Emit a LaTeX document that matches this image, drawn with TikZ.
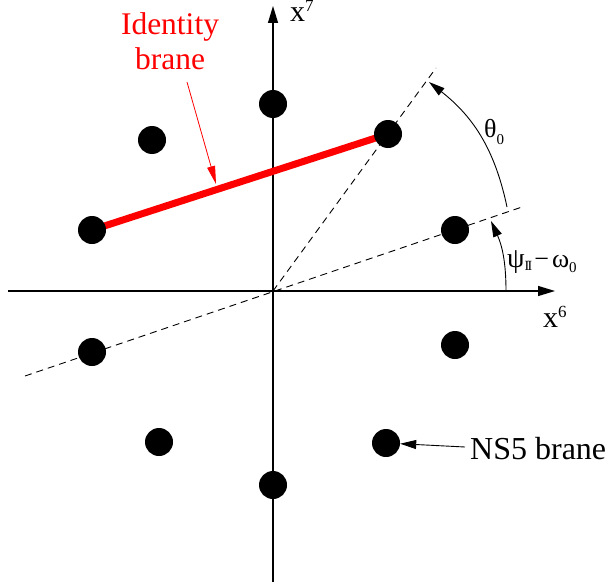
\documentclass[tikz,border=0pt]{standalone}
\usepackage{fontspec}
\setmainfont{Liberation Serif}
\usetikzlibrary{arrows.meta}
\begin{document}
\begin{tikzpicture}[x=1pt,y=1pt,
  dot/.style={circle,fill=black,draw=none,inner sep=0pt,minimum size=28pt},
  axis/.style={line width=1.2pt,-{Triangle[length=17pt,width=10pt]}},
  dashline/.style={line width=0.9pt,dash pattern=on 7pt off 5pt},
  brane/.style={red,line width=7pt},
  pointer/.style={line width=0.9pt,-{Triangle[length=16pt,width=9pt]}},
  lbl/.style={inner sep=0pt,anchor=base west},
  bigtxt/.style={font=\fontsize{31.5}{35}\selectfont}]
\useasboundingbox (0,0) rectangle (607,-586);
% axes
\coordinate (o) at (273,-291);
\coordinate (xl) at (8,-291);
\coordinate (xr) at (555,-291);
\coordinate (yb) at (273,-582);
\coordinate (yt) at (273,-6);
\draw[axis] (xl) -- (xr);
\draw[axis] (yb) -- (yt);
% dashed lines
\coordinate (e1) at (436,-68);
\coordinate (e2a) at (25,-376);
\coordinate (e2b) at (522,-207);
\draw[dashline] (o) -- (e1);
\draw[dashline] (e2a) -- (e2b);
% red brane line (drawn below dots)
\coordinate (cL) at (92,-230);
\coordinate (cR) at (388,-134);
\draw[brane] (cL) -- (cR);
% dots
\node[dot] (d1) at (273,-104) {};
\node[dot] (d2) at (152,-140) {};
\node[dot] (d3) at (cR) {};
\node[dot] (d4) at (cL) {};
\node[dot] (d5) at (455,-230) {};
\node[dot] (d6) at (92,-352) {};
\node[dot] (d7) at (455,-345) {};
\node[dot] (d8) at (159,-442) {};
\node[dot] (d9) at (386,-443) {};
\node[dot] (d10) at (273,-485) {};
% axis labels
\node[lbl,font=\fontsize{30}{30}\selectfont] (lx6) at (543,-327) {x\raisebox{10pt}{\fontsize{17}{17}\selectfont 6}};
\node[lbl,font=\fontsize{30}{30}\selectfont] (lx7) at (290,-22) {x\raisebox{10pt}{\fontsize{17}{17}\selectfont 7}};
% angle arcs
\coordinate (ta) at (507,-207);
\coordinate (tb) at (429,-82);
\draw[pointer] (ta) to[bend right=20] (tb);
\coordinate (pa) at (506,-290);
\coordinate (pb) at (491,-221);
\draw[pointer] (pa) to[bend right=12] (pb);
\node[lbl] (lth) at (484,-137) {\fontsize{26}{26}\selectfont θ\raisebox{-7pt}{\fontsize{15}{15}\selectfont 0}};
\node[lbl] (lps) at (507,-267) {\fontsize{28}{28}\selectfont ψ\raisebox{-3pt}{\fontsize{14}{14}\selectfont I\kern-0.12em I}\kern2pt{\fontsize{26}{26}\selectfont −\kern3pt ω}\raisebox{-5pt}{\fontsize{15}{15}\selectfont 0}};
% identity brane label
\node[bigtxt,red,align=center,inner sep=0pt,anchor=north] (idl) at (170,-12) {Identity\\brane};
\coordinate (ra) at (187,-82);
\coordinate (rb) at (216,-184);
\draw[red,line width=0.8pt,-{Triangle[length=18pt,width=8pt]}] (ra) -- (rb);
% NS5 brane label
\node[lbl,font=\fontsize{32}{36}\selectfont] (ns) at (470,-459) {NS5 brane};
\coordinate (nsa) at (465,-447);
\draw[pointer] (nsa) -- (d9);
\end{tikzpicture}
\end{document}
